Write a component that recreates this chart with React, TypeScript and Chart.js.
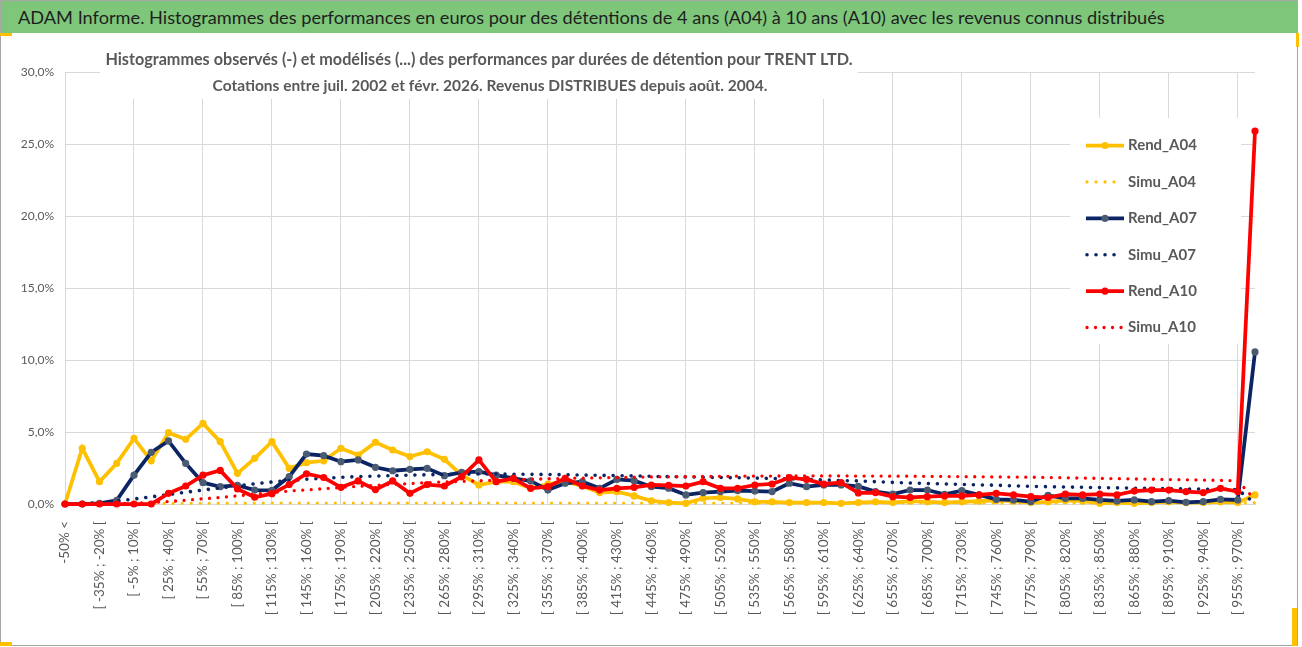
import { useEffect, useRef } from "react";
import { Chart, registerables } from "chart.js";

Chart.register(...registerables);

const mainTitle =
  "ADAM Informe. Histogrammes des performances en euros pour des détentions de 4 ans (A04) à 10 ans (A10) avec les revenus connus distribués";
const subTitleLines = [
  "Histogrammes observés (-) et modélisés (...) des performances par durées de détention pour TRENT LTD.",
  "Cotations entre juil. 2002 et févr. 2026. Revenus DISTRIBUES depuis août. 2004.",
];

const categories = [
  "-50% <",
  "[ -50% ; -35% [", "[ -35% ; -20% [", "[ -20% ; -5% [", "[ -5% ; 10% [", "[ 10% ; 25% [",
  "[ 25% ; 40% [", "[ 40% ; 55% [", "[ 55% ; 70% [", "[ 70% ; 85% [", "[ 85% ; 100% [",
  "[ 100% ; 115% [", "[ 115% ; 130% [", "[ 130% ; 145% [", "[ 145% ; 160% [", "[ 160% ; 175% [",
  "[ 175% ; 190% [", "[ 190% ; 205% [", "[ 205% ; 220% [", "[ 220% ; 235% [", "[ 235% ; 250% [",
  "[ 250% ; 265% [", "[ 265% ; 280% [", "[ 280% ; 295% [", "[ 295% ; 310% [", "[ 310% ; 325% [",
  "[ 325% ; 340% [", "[ 340% ; 355% [", "[ 355% ; 370% [", "[ 370% ; 385% [", "[ 385% ; 400% [",
  "[ 400% ; 415% [", "[ 415% ; 430% [", "[ 430% ; 445% [", "[ 445% ; 460% [", "[ 460% ; 475% [",
  "[ 475% ; 490% [", "[ 490% ; 505% [", "[ 505% ; 520% [", "[ 520% ; 535% [", "[ 535% ; 550% [",
  "[ 550% ; 565% [", "[ 565% ; 580% [", "[ 580% ; 595% [", "[ 595% ; 610% [", "[ 610% ; 625% [",
  "[ 625% ; 640% [", "[ 640% ; 655% [", "[ 655% ; 670% [", "[ 670% ; 685% [", "[ 685% ; 700% [",
  "[ 700% ; 715% [", "[ 715% ; 730% [", "[ 730% ; 745% [", "[ 745% ; 760% [", "[ 760% ; 775% [",
  "[ 775% ; 790% [", "[ 790% ; 805% [", "[ 805% ; 820% [", "[ 820% ; 835% [", "[ 835% ; 850% [",
  "[ 850% ; 865% [", "[ 865% ; 880% [", "[ 880% ; 895% [", "[ 895% ; 910% [", "[ 910% ; 925% [",
  "[ 925% ; 940% [", "[ 940% ; 955% [", "[ 955% ; 970% [", "[ 970% ; 985% [",
];

// values in %
const rendA04 = [
  0, 3.87, 1.55, 2.82, 4.56, 3.0, 4.95, 4.49, 5.6, 4.33,
  2.13, 3.17, 4.33, 2.48, 2.87, 3.0, 3.87, 3.4, 4.28, 3.75,
  3.29, 3.63, 3.1, 2.0, 1.32, 1.55, 1.55, 1.09, 1.39, 1.55,
  1.25, 0.79, 0.86, 0.56, 0.22, 0.1, 0.05, 0.4, 0.45, 0.35,
  0.15, 0.15, 0.1, 0.1, 0.1, 0.05, 0.1, 0.15, 0.1, 0.2,
  0.15, 0.1, 0.15, 0.2, 0.25, 0.2, 0.1, 0.15, 0.25, 0.2,
  0.05, 0.1, 0.05, 0.1, 0.15, 0.1, 0.1, 0.15, 0.1, 0.63,
];
const simuA04 = [
  0, 0, 0, 0.01, 0.02, 0.03, 0.04, 0.05, 0.05, 0.06,
  0.06, 0.06, 0.07, 0.07, 0.07, 0.07, 0.07, 0.07, 0.07, 0.07,
  0.07, 0.07, 0.07, 0.07, 0.07, 0.07, 0.07, 0.07, 0.07, 0.07,
  0.07, 0.07, 0.07, 0.07, 0.07, 0.07, 0.07, 0.07, 0.07, 0.07,
  0.07, 0.07, 0.07, 0.07, 0.07, 0.07, 0.07, 0.07, 0.07, 0.07,
  0.07, 0.07, 0.07, 0.07, 0.07, 0.07, 0.07, 0.07, 0.07, 0.07,
  0.07, 0.07, 0.07, 0.07, 0.07, 0.07, 0.07, 0.07, 0.07, 0.08,
];
const rendA07 = [
  0, 0, 0.05, 0.25, 2.0, 3.59, 4.38, 2.82, 1.48, 1.2,
  1.3, 0.97, 0.95, 1.9, 3.47, 3.36, 2.94, 3.06, 2.55, 2.31,
  2.41, 2.48, 1.97, 2.2, 2.25, 2.0, 1.78, 1.6, 0.97, 1.44,
  1.55, 1.09, 1.71, 1.62, 1.2, 1.1, 0.63, 0.79, 0.86, 0.93,
  0.9, 0.86, 1.44, 1.2, 1.32, 1.32, 1.22, 0.86, 0.69, 0.97,
  0.97, 0.67, 0.93, 0.63, 0.32, 0.28, 0.16, 0.6, 0.39, 0.39,
  0.28, 0.21, 0.28, 0.16, 0.23, 0.12, 0.16, 0.32, 0.28, 10.56,
];
const simuA07 = [
  0, 0.03, 0.1, 0.2, 0.35, 0.5, 0.65, 0.82, 0.97, 1.12,
  1.26, 1.4, 1.53, 1.63, 1.72, 1.79, 1.85, 1.9, 1.94, 1.97,
  2.0, 2.03, 2.05, 2.07, 2.08, 2.08, 2.07, 2.06, 2.05, 2.03,
  2.01, 1.99, 1.97, 1.95, 1.92, 1.9, 1.88, 1.86, 1.84, 1.82,
  1.8, 1.77, 1.74, 1.71, 1.67, 1.63, 1.6, 1.55, 1.5, 1.46,
  1.42, 1.39, 1.36, 1.33, 1.3, 1.26, 1.23, 1.2, 1.18, 1.16,
  1.14, 1.12, 1.1, 1.08, 1.06, 1.05, 1.03, 1.02, 1.0, 0.05,
];
const rendA10 = [
  0, 0, 0, 0, 0, 0, 0.74, 1.25, 2.0, 2.33,
  1.05, 0.47, 0.72, 1.35, 2.1, 1.84, 1.16, 1.6, 1.0, 1.6,
  0.74, 1.35, 1.25, 1.9, 3.06, 1.55, 1.78, 1.09, 1.2, 1.78,
  1.25, 0.97, 1.09, 1.16, 1.32, 1.3, 1.25, 1.55, 1.09, 1.09,
  1.32, 1.39, 1.83, 1.71, 1.39, 1.48, 0.77, 0.79, 0.51, 0.46,
  0.51, 0.56, 0.56, 0.63, 0.74, 0.63, 0.51, 0.45, 0.69, 0.63,
  0.69, 0.63, 0.9, 0.97, 0.97, 0.86, 0.79, 1.09, 0.86, 25.9,
];
const simuA10 = [
  0, 0, 0.01, 0.02, 0.05, 0.1, 0.17, 0.26, 0.36, 0.46,
  0.57, 0.68, 0.8, 0.9, 0.98, 1.06, 1.15, 1.23, 1.3, 1.36,
  1.42, 1.48, 1.53, 1.57, 1.61, 1.65, 1.69, 1.72, 1.75, 1.78,
  1.8, 1.82, 1.84, 1.86, 1.88, 1.89, 1.9, 1.91, 1.92, 1.93,
  1.94, 1.94, 1.95, 1.95, 1.95, 1.95, 1.94, 1.94, 1.93, 1.93,
  1.92, 1.91, 1.9, 1.89, 1.88, 1.87, 1.86, 1.84, 1.82, 1.8,
  1.78, 1.76, 1.74, 1.72, 1.7, 1.68, 1.66, 1.64, 1.62, 0.3,
];

const YELLOW = "#FFC000";
const NAVY = "#0A2464";
const NAVY_MARK = "#4B5B72";
const RED = "#FF0000";
const TEXT = "#595959";
const GRID = "#d9d9d9";
const FONT = "Lato, 'Open Sans', sans-serif";

const solid = (label: string, data: number[], color: string, mark: string, order: number) => ({
  label,
  data,
  borderColor: color,
  backgroundColor: mark,
  borderWidth: 3.75,
  pointRadius: 3.6,
  pointBackgroundColor: mark,
  pointBorderColor: mark,
  pointBorderWidth: 0,
  tension: 0,
  fill: false,
  clip: false as const,
  order,
  _dotted: false,
});
const dotted = (label: string, data: number[], color: string, width: number, gap: number, order: number) => ({
  label,
  data,
  borderColor: color,
  backgroundColor: color,
  borderWidth: width,
  borderDash: [0.01, gap],
  borderCapStyle: "round" as const,
  pointRadius: 0,
  tension: 0,
  fill: false,
  clip: false as const,
  order,
  _dotted: true,
});

const overlayPlugin = {
  id: "overlay",
  afterDraw(chart: any) {
    const ctx: CanvasRenderingContext2D = chart.ctx;
    ctx.save();
    // subtitle box
    ctx.fillStyle = "#ffffff";
    ctx.fillRect(100, 42, 758, 57);
    ctx.fillStyle = TEXT;
    ctx.textAlign = "center";
    ctx.textBaseline = "middle";
    ctx.font = `bold 16.2px ${FONT}`;
    ctx.fillText(subTitleLines[0], 479, 60);
    ctx.font = `bold 15.5px ${FONT}`;
    ctx.fillText(subTitleLines[1], 490, 86);

    // legend box
    ctx.fillStyle = "#ffffff";
    ctx.fillRect(1070, 118, 171, 226);
    chart.data.datasets.forEach((ds: any, i: number) => {
      const y = 145.5 + 36.4 * i;
      ctx.save();
      ctx.strokeStyle = ds.borderColor;
      ctx.lineWidth = ds.borderWidth;
      if (ds._dotted) {
        ctx.lineCap = "round";
        ctx.setLineDash(ds.borderDash);
        ctx.beginPath();
        ctx.moveTo(1087, y);
        ctx.lineTo(1122, y);
        ctx.stroke();
      } else {
        ctx.lineCap = "butt";
        ctx.beginPath();
        ctx.moveTo(1086, y);
        ctx.lineTo(1124, y);
        ctx.stroke();
        ctx.fillStyle = ds.pointBackgroundColor;
        ctx.beginPath();
        ctx.arc(1105, y, 3.6, 0, Math.PI * 2);
        ctx.fill();
      }
      ctx.restore();
      ctx.fillStyle = TEXT;
      ctx.font = `bold 15px ${FONT}`;
      ctx.textAlign = "left";
      ctx.textBaseline = "middle";
      ctx.fillText(ds.label, 1128, y);
    });
    ctx.restore();
  },
};

export default function App() {
  const canvasRef = useRef<HTMLCanvasElement | null>(null);

  useEffect(() => {
    document.body.style.margin = "0";
    const canvas = canvasRef.current;
    if (!canvas) return;
    const chart = new Chart(canvas, {
      type: "line",
      data: {
        labels: categories,
        datasets: [
          solid("Rend_A04", rendA04, YELLOW, YELLOW, 6),
          dotted("Simu_A04", simuA04, YELLOW, 3.2, 9, 5),
          solid("Rend_A07", rendA07, NAVY, NAVY_MARK, 4),
          dotted("Simu_A07", simuA07, NAVY, 3.6, 9, 3),
          solid("Rend_A10", rendA10, RED, RED, 2),
          dotted("Simu_A10", simuA10, RED, 3.3, 8.5, 1),
        ] as any,
      },
      options: {
        responsive: false,
        animation: false,
        layout: { padding: { left: 8, top: 72, right: 47, bottom: 0 } },
        plugins: {
          legend: { display: false },
          tooltip: { enabled: false },
          title: { display: false },
        },
        scales: {
          x: {
            type: "category",
            offset: false,
            grid: {
              color: (c: any) => (c.index % 4 === 0 ? GRID : "rgba(0,0,0,0)"),
              drawTicks: false,
              lineWidth: 1,
            },
            border: { color: GRID },
            ticks: {
              autoSkip: false,
              maxRotation: 90,
              minRotation: 90,
              padding: 17,
              color: TEXT,
              font: { family: FONT, size: 13.5 },
              callback: (_v: any, i: number) => (i % 2 === 0 ? categories[i] : ""),
            },
            afterFit: (s: any) => {
              s.height = 143;
            },
          },
          y: {
            min: 0,
            max: 30,
            grid: { color: GRID, drawTicks: false },
            border: { display: false },
            ticks: {
              stepSize: 5,
              padding: 11,
              color: TEXT,
              font: { family: FONT, size: 12 },
              callback: (v: any) => Number(v).toFixed(1).replace(".", ",") + "%",
            },
            afterFit: (s: any) => {
              s.width = 57;
            },
          },
        },
      } as any,
      plugins: [overlayPlugin],
    });
    return () => chart.destroy();
  }, []);

  return (
    <div style={{ position: "relative", width: 1302, height: 647, overflow: "hidden", background: "#fff" }}>
      <div
        style={{
          position: "absolute",
          left: 0,
          top: 0,
          width: 1298,
          height: 646,
          border: "1px solid #a6a6a6",
          boxSizing: "border-box",
        }}
      />
      <canvas
        ref={canvasRef}
        width={1302}
        height={647}
        style={{ position: "absolute", left: 0, top: 0, width: 1302, height: 647 }}
      />
      <div
        style={{
          position: "absolute",
          left: 1,
          top: 1,
          width: 1296,
          height: 32,
          background: "#7DC67A",
          color: "#1f1f1f",
          fontFamily: FONT,
          fontSize: 18.2,
          lineHeight: "32px",
          paddingLeft: 17,
          boxSizing: "border-box",
          whiteSpace: "nowrap",
        }}
      >
        {mainTitle}
      </div>
      <div style={{ position: "absolute", left: 0, top: 33, width: 12, height: 3, background: "#FFC000" }} />
      <div style={{ position: "absolute", left: 1296, top: 33, width: 3, height: 14, background: "#FFC000" }} />
      <div style={{ position: "absolute", left: 0, top: 642, width: 12, height: 4, background: "#FFC000" }} />
      <div style={{ position: "absolute", left: 1292, top: 608, width: 5, height: 38, background: "#FFC000" }} />
    </div>
  );
}
